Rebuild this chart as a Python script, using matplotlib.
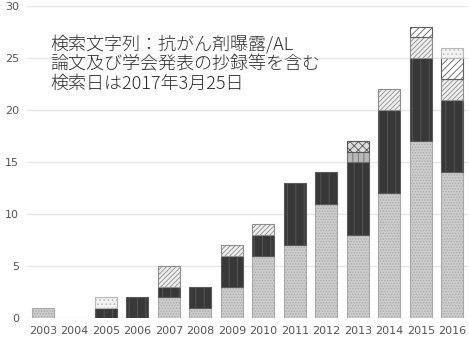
import matplotlib
matplotlib.use('Agg')
import matplotlib.pyplot as plt
import numpy as np

years = ['2003', '2004', '2005', '2006', '2007', '2008', '2009',
         '2010', '2011', '2012', '2013', '2014', '2015', '2016']

# stacked series, bottom to top
s_light = [1, 0, 0, 0, 2, 1, 3, 6, 7, 11, 8, 12, 17, 14]
s_dark = [0, 0, 1, 2, 1, 2, 3, 2, 6, 3, 7, 8, 8, 7]
s_hatch = [0, 0, 0, 0, 2, 0, 1, 1, 0, 0, 0, 2, 2, 2]
s_vert = [0, 0, 0, 0, 0, 0, 0, 0, 0, 0, 1, 0, 0, 0]
s_check = [0, 0, 0, 0, 0, 0, 0, 0, 0, 0, 1, 0, 0, 0]
s_diag = [0, 0, 0, 0, 0, 0, 0, 0, 0, 0, 0, 0, 1, 2]
s_pale = [0, 0, 1, 0, 0, 0, 0, 0, 0, 0, 0, 0, 0, 1]

note = ['検索文字列：抗がん剤曝露/AL',
        '論文及び学会発表の抄録等を含む',
        '検索日は2017年3月25日']

series = [s_light, s_dark, s_hatch, s_vert, s_check, s_diag, s_pale]
styles = [
    dict(facecolor='#cccccc', edgecolor='#a8a8a8', hatch='......'),
    dict(facecolor='#383838', edgecolor='#5a5a5a', hatch='||'),
    dict(facecolor='#eeeeee', edgecolor='#8e8e8e', hatch='///////'),
    dict(facecolor='#b8b8b8', edgecolor='#707070', hatch='|||'),
    dict(facecolor='#dddddd', edgecolor='#555555', hatch='xxxx'),
    dict(facecolor='#ffffff', edgecolor='#606060', hatch='/////'),
    dict(facecolor='#f2f2f2', edgecolor='#b8b8b8', hatch='....'),
]

plt.rcParams['hatch.linewidth'] = 0.6

fig = plt.figure(figsize=(4.69, 3.48), dpi=100)
ax = fig.add_axes([0.058, 0.086, 0.94, 0.897])

x = np.arange(len(years))
bottom = np.zeros(len(years))
for vals, st in zip(series, styles):
    vals = np.array(vals, dtype=float)
    keep = vals > 0
    ax.bar(x[keep], vals[keep], 0.7, bottom=bottom[keep], linewidth=0.8, **st)
    bottom += vals

ax.set_xlim(-0.5, len(years) - 0.5)
ax.set_ylim(0, 30)
ax.set_yticks([0, 5, 10, 15, 20, 25, 30])
ax.set_xticks(x)
ax.set_xticklabels(years)
ax.yaxis.grid(True, color='#e6e6e6', linewidth=1)
ax.set_axisbelow(True)
for sp in ax.spines.values():
    sp.set_visible(False)
ax.tick_params(length=0, labelsize=8, colors='#555555', pad=6)

fig.text(0.107, 0.9, '\n'.join(note), family=['Noto Sans CJK JP', 'DejaVu Sans'],
         fontsize=13, fontweight='light', color='#2e2e2e', va='top',
         linespacing=1.1)

fig.savefig('out.png', dpi=100)
